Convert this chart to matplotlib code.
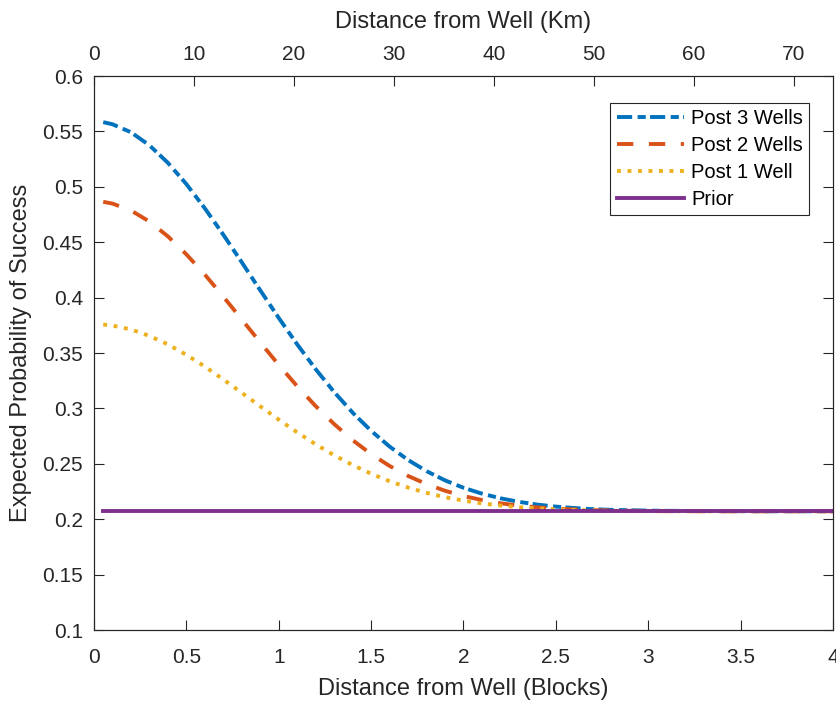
import numpy as np
import matplotlib
matplotlib.use("Agg")
import matplotlib.pyplot as plt

plt.rcParams['font.family'] = ['Liberation Sans', 'DejaVu Sans']

# distance in blocks (first sample just off the well)
blocks = np.concatenate(([0.05], np.arange(1, 41) / 10))

post3 = [0.5584, 0.5565, 0.5493, 0.5375, 0.5217, 0.5025, 0.4806, 0.4568, 0.4319, 0.4066,
         0.3817, 0.3578, 0.3354, 0.3148, 0.2962, 0.2798, 0.2656, 0.2535, 0.2434, 0.2351,
         0.2284, 0.2231, 0.2189, 0.2157, 0.2132, 0.2114, 0.2101, 0.2091, 0.2085, 0.2081,
         0.2078, 0.2076, 0.2075, 0.2074, 0.2073, 0.2073, 0.2072, 0.2072, 0.2072, 0.2072, 0.2072]
post2 = [0.4865, 0.4849, 0.4787, 0.4687, 0.4553, 0.4391, 0.4208, 0.4009, 0.3803, 0.3596,
         0.3393, 0.3200, 0.3021, 0.2859, 0.2714, 0.2588, 0.2481, 0.2391, 0.2317, 0.2257,
         0.2210, 0.2173, 0.2144, 0.2123, 0.2107, 0.2096, 0.2088, 0.2082, 0.2078, 0.2076,
         0.2074, 0.2073, 0.2073, 0.2072, 0.2072, 0.2072, 0.2072, 0.2072, 0.2072, 0.2072, 0.2072]
post1 = [0.3757, 0.3748, 0.3713, 0.3655, 0.3578, 0.3484, 0.3378, 0.3262, 0.3141, 0.3019,
         0.2899, 0.2784, 0.2676, 0.2577, 0.2489, 0.2411, 0.2343, 0.2286, 0.2238, 0.2199,
         0.2168, 0.2143, 0.2124, 0.2109, 0.2098, 0.2090, 0.2084, 0.2079, 0.2076, 0.2074,
         0.2073, 0.2073, 0.2072, 0.2072, 0.2072, 0.2072, 0.2072, 0.2072, 0.2072, 0.2072, 0.2072]
prior = 0.2072

x_ticks = [0, 0.5, 1, 1.5, 2, 2.5, 3, 3.5, 4]
x_labels = ['0', '0.5', '1', '1.5', '2', '2.5', '3', '3.5', '4']
y_ticks = [0.1, 0.15, 0.2, 0.25, 0.3, 0.35, 0.4, 0.45, 0.5, 0.55, 0.6]
y_labels = ['0.1', '0.15', '0.2', '0.25', '0.3', '0.35', '0.4', '0.45', '0.5', '0.55', '0.6']
km_ticks = [0, 10, 20, 30, 40, 50, 60, 70]
km_max = 73.9

AX_COLOR = '#262626'
LW = 2.8

fig = plt.figure(figsize=(8.37, 7.03), dpi=100)
ax = fig.add_axes([0.1123, 0.1038, 0.8829, 0.7880])

l3, = ax.plot(blocks, post3, color='#0072BD', lw=LW, dashes=(3.9, 1.4, 2.1, 1.1), label='Post 3 Wells')
l2, = ax.plot(blocks, post2, color='#D95319', lw=LW, dashes=(4.2, 4.0), label='Post 2 Wells')
l1, = ax.plot(blocks, post1, color='#EDB120', lw=LW, dashes=(1.0, 1.7), label='Post 1 Well')
l0, = ax.plot(blocks, np.full(len(blocks), prior), color='#7E2F8E', lw=LW, label='Prior')
for ln in (l3, l2, l1, l0):
    ln.set_dash_capstyle('butt')

ax.set_xlim(0, 4)
ax.set_ylim(0.1, 0.6)
ax.set_xticks(x_ticks)
ax.set_xticklabels(x_labels)
ax.set_yticks(y_ticks)
ax.set_yticklabels(y_labels)
ax.tick_params(axis='x', direction='in', length=7, width=0.8, colors=AX_COLOR,
               labelsize=15, pad=13, top=False)
ax.tick_params(axis='y', direction='in', length=7, width=0.8, colors=AX_COLOR,
               labelsize=15, pad=8, right=True)
for sp in ax.spines.values():
    sp.set_color(AX_COLOR)
    sp.set_linewidth(0.8)
ax.set_xlabel('Distance from Well (Blocks)', fontsize=17, color=AX_COLOR, labelpad=8)
ax.set_ylabel('Expected Probability of Success', fontsize=17, color=AX_COLOR, labelpad=7)

top = ax.twiny()
top.set_xlim(0, km_max)
top.set_xticks(km_ticks)
top.tick_params(axis='x', direction='in', length=7, width=0.8, colors=AX_COLOR,
                labelsize=15, pad=9)
for sp in top.spines.values():
    sp.set_color(AX_COLOR)
    sp.set_linewidth(0.8)
top.set_xlabel('Distance from Well (Km)', fontsize=17, color=AX_COLOR, labelpad=12)

leg = ax.legend(handles=[l3, l2, l1, l0], loc='lower right', bbox_to_anchor=(0.9675, 0.749),
                fontsize=14.5, frameon=True, fancybox=False, framealpha=1,
                edgecolor=AX_COLOR, handlelength=3.35, handletextpad=0.35,
                labelspacing=0.4, borderpad=0.3, borderaxespad=0)
leg.get_frame().set_linewidth(0.8)

fig.savefig('out.png', dpi=100)
